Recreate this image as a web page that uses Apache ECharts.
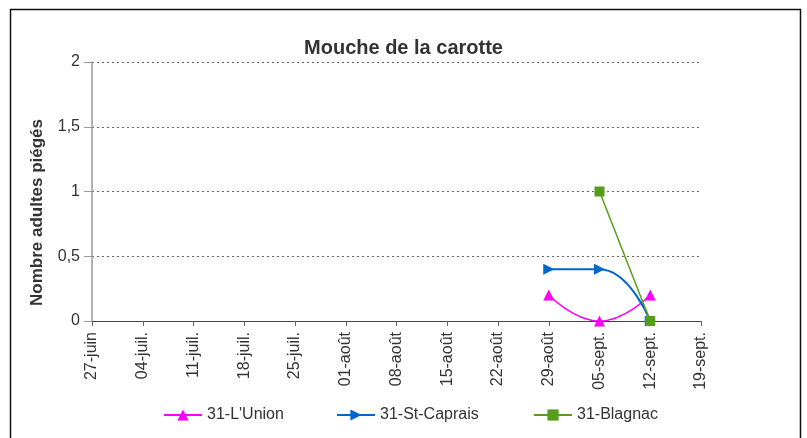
<!DOCTYPE html>
<html>
<head>
<meta charset="utf-8">
<script src="https://cdn.jsdelivr.net/npm/echarts@6/dist/echarts.min.js"></script>
<style>
  html, body { margin: 0; padding: 0; background: #fff; }
  #chart { width: 807px; height: 438px; }
</style>
</head>
<body>
<div id="chart"></div>
<script>
// weekly dates on the x axis
const weeks = ['27-juin', '04-juil.', '11-juil.', '18-juil.', '25-juil.', '01-août', '08-août',
  '15-août', '22-août', '29-août', '05-sept.', '12-sept.', '19-sept.']
// captures per site, '-' = no reading
const lUnion = ['-', '-', '-', '-', '-', '-', '-', '-', '-', 0.2, 0, 0.2, '-']
const stCaprais = ['-', '-', '-', '-', '-', '-', '-', '-', '-', 0.4, 0.4, 0, '-']
const blagnac = ['-', '-', '-', '-', '-', '-', '-', '-', '-', '-', 1, 0, '-']
const yTicks = [0, 0.5, 1, 1.5, 2]

const chart = echarts.init(document.getElementById('chart'))
const font = 'Liberation Sans'

function legendFor (name, left) {
  return {
    data: [name],
    left: left,
    top: 402,
    itemWidth: 38,
    itemHeight: 14,
    itemGap: 5,
    textStyle: { fontFamily: font, fontSize: 16, color: '#333' }
  }
}

const option = {
  animation: false,
  textStyle: { fontFamily: font },
  title: {
    text: 'Mouche de la carotte',
    left: 'center',
    top: 33,
    textStyle: { fontFamily: font, fontSize: 20, fontWeight: 'bold', color: '#333' }
  },
  graphic: [{
    type: 'rect',
    shape: { x: 10.5, y: 9.5, width: 790, height: 440 },
    style: { fill: 'none', stroke: '#111', lineWidth: 1.5 },
    silent: true
  }],
  legend: [
    legendFor('31-L\'Union', 158),
    legendFor('31-St-Caprais', 331),
    legendFor('31-Blagnac', 528)
  ],
  grid: { left: 92, right: 106, top: 62, bottom: 117 },
  xAxis: {
    type: 'category',
    data: weeks,
    boundaryGap: false,
    axisLine: { lineStyle: { color: '#444', width: 1 } },
    axisTick: { show: true, length: 5, lineStyle: { color: '#666' } },
    axisLabel: { rotate: 90, interval: 0, fontSize: 16, color: '#333', margin: 11 },
    splitLine: { show: false }
  },
  yAxis: {
    type: 'value',
    min: yTicks[0],
    max: yTicks[yTicks.length - 1],
    interval: 0.5,
    name: 'Nombre adultes piégés',
    nameLocation: 'middle',
    nameGap: 46,
    nameTextStyle: { fontSize: 17, fontWeight: 'bold', color: '#333', padding: [0, 42, 0, 0] },
    axisLine: { show: true, lineStyle: { color: '#999', width: 1.5 } },
    axisTick: { show: true, length: 8, lineStyle: { color: '#999' } },
    axisLabel: {
      fontSize: 16,
      color: '#333',
      margin: 12,
      formatter: v => String(v).replace('.', ',')
    },
    splitLine: { lineStyle: { color: '#666', type: [2, 3], width: 1 } }
  },
  series: [
    {
      name: '31-L\'Union',
      type: 'line',
      data: lUnion,
      smooth: 0.5,
      symbol: 'triangle',
      symbolSize: 11,
      itemStyle: { color: '#ff00ff' },
      lineStyle: { color: '#ff00ff', width: 1.5 }
    },
    {
      name: '31-St-Caprais',
      type: 'line',
      data: stCaprais,
      smooth: 0.5,
      symbol: 'triangle',
      symbolRotate: -90,
      symbolSize: 11,
      itemStyle: { color: '#0066cc' },
      lineStyle: { color: '#0066cc', width: 2 }
    },
    {
      name: '31-Blagnac',
      type: 'line',
      data: blagnac,
      symbol: 'rect',
      symbolSize: 10,
      itemStyle: { color: '#579d1c' },
      lineStyle: { color: '#579d1c', width: 1.5 }
    }
  ]
}

chart.setOption(option)
</script>
</body>
</html>
